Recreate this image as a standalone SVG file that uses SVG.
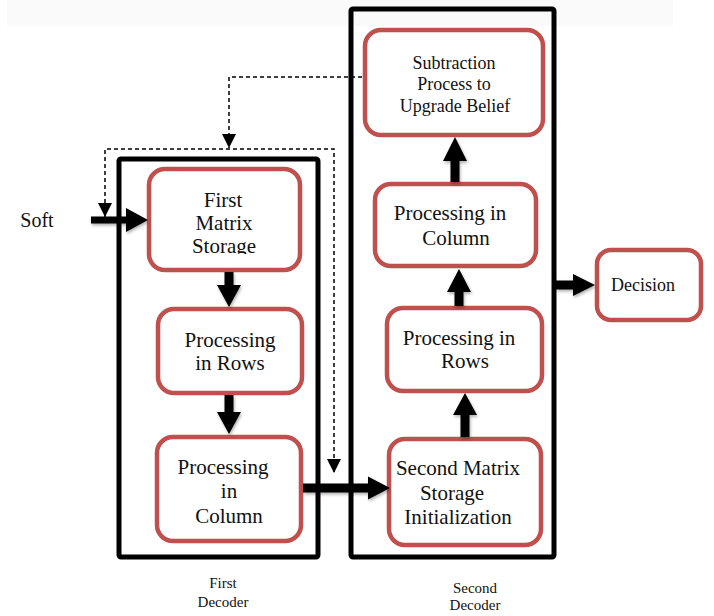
<svg xmlns="http://www.w3.org/2000/svg" width="714" height="616" viewBox="0 0 714 616">
<style>
.node{fill:#fff;stroke:#c0504d;stroke-width:4.5}
.dec{fill:none;stroke:#000;stroke-width:5}
.t{font-family:"Liberation Serif","Times New Roman",serif;fill:#111;text-anchor:middle}
.big{font-size:21px}
.mid{font-size:18px}
.sm{font-size:15px}
.arr{fill:#000;filter:url(#sh)}
.dash{fill:none;stroke:#000;stroke-width:1.5;stroke-dasharray:4 3}
</style>
<defs>
<filter id="sh" x="-30%" y="-30%" width="160%" height="160%">
<feDropShadow dx="1" dy="2" stdDeviation="1.5" flood-color="#000" flood-opacity="0.3"/>
</filter>
<marker id="dh" viewBox="0 0 14 14" refX="14" refY="7" markerWidth="14" markerHeight="14" markerUnits="userSpaceOnUse" orient="auto-start-reverse">
<path d="M0,0 L14,7 L0,14 Z" fill="#000"/>
</marker>
<clipPath id="clipFM"><rect x="140" y="160" width="170" height="94"/></clipPath>
</defs>
<rect x="7" y="0" width="666" height="26" fill="#fafafa"/>
<g id="first-decoder">
<rect class="dec" x="119" y="159" width="199" height="398" rx="2"/>
<text class="t sm" x="223" y="588">First</text>
<text class="t sm" x="223" y="607">Decoder</text>
</g>
<g id="second-decoder">
<rect class="dec" x="351" y="9" width="203" height="548" rx="2"/>
<text class="t sm" x="475" y="593">Second</text>
<text class="t sm" x="475" y="610">Decoder</text>
</g>
<g id="soft">
<text class="t" style="font-size:20px" x="37" y="227">Soft</text>
</g>
<g id="first-matrix">
<rect class="node" x="149" y="169" width="151" height="101" rx="16"/>
<g clip-path="url(#clipFM)">
<text class="t big" x="223" y="207">First</text>
<text class="t big" x="224" y="230">Matrix</text>
<text class="t big" x="224" y="253">Storage</text>
</g>
</g>
<g id="rows1">
<rect class="node" x="158" y="309" width="144" height="84" rx="16"/>
<text class="t big" x="230" y="347">Processing</text>
<text class="t big" x="230" y="370">in Rows</text>
</g>
<g id="column1">
<rect class="node" x="157" y="437" width="144" height="104" rx="16"/>
<text class="t big" x="223" y="474">Processing</text>
<text class="t big" x="229" y="498">in</text>
<text class="t big" x="229" y="523">Column</text>
</g>
<g id="second-matrix">
<rect class="node" x="389" y="439" width="152" height="106" rx="16"/>
<text class="t big" x="458" y="475">Second Matrix</text>
<text class="t big" x="452" y="500">Storage</text>
<text class="t big" x="458" y="524">Initialization</text>
</g>
<g id="rows2">
<rect class="node" x="387" y="308" width="155" height="83" rx="16"/>
<text class="t big" x="459" y="345">Processing in</text>
<text class="t big" x="465" y="368">Rows</text>
</g>
<g id="column2">
<rect class="node" x="375" y="184" width="161" height="82" rx="16"/>
<text class="t big" x="450" y="220">Processing in</text>
<text class="t big" x="456" y="245">Column</text>
</g>
<g id="subtraction">
<rect class="node" x="365" y="30" width="178" height="105" rx="16"/>
<text class="t mid" x="454" y="69">Subtraction</text>
<text class="t mid" x="454" y="90">Process to</text>
<text class="t mid" x="455" y="112">Upgrade Belief</text>
</g>
<g id="decision">
<rect class="node" x="597" y="250" width="104" height="70" rx="14"/>
<text class="t mid" x="643" y="291">Decision</text>
</g>
<g id="connectors">
<path class="dash" d="M362,77 H229 V148" marker-end="url(#dh)"/>
<path class="dash" d="M105,217 V149 H334 V473" marker-start="url(#dh)" marker-end="url(#dh)"/>
<polygon class="arr" points="91,216.5 126,216.5 126,208 148,220 126,232 126,223.5 91,223.5"/>
<polygon class="arr" points="224.5,272 224.5,285 217,285 229,307 241,285 233.5,285 233.5,272"/>
<polygon class="arr" points="224.5,395 224.5,412 217,412 229,434 241,412 233.5,412 233.5,395"/>
<polygon class="arr" points="303,483.5 368,483.5 368,476.5 390,488 368,499.5 368,492.5 303,492.5"/>
<polygon class="arr" points="460.5,437 460.5,415 453,415 465,393 477,415 469.5,415 469.5,437"/>
<polygon class="arr" points="454.5,306 454.5,292 447,292 459,269 471,292 463.5,292 463.5,306"/>
<polygon class="arr" points="450.5,182 450.5,161 443,161 455,137 467,161 459.5,161 459.5,182"/>
<polygon class="arr" points="556,280.5 573,280.5 573,274 595,285 573,296 573,289.5 556,289.5"/>
</g>
</svg>
